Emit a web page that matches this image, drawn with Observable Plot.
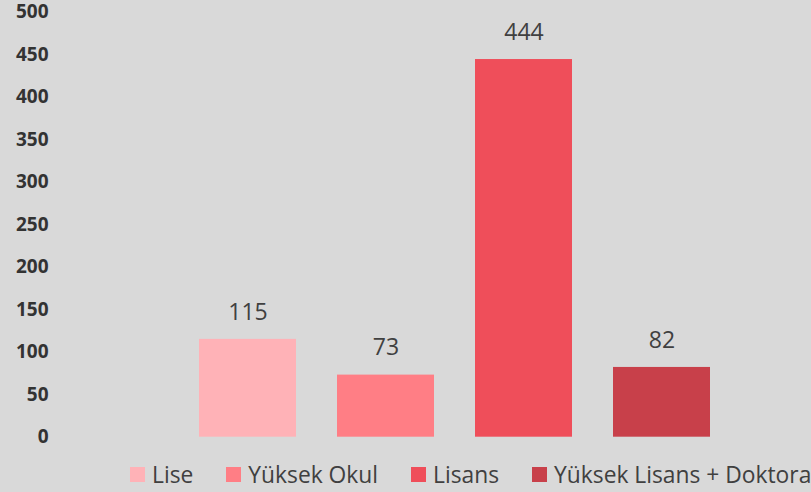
<!DOCTYPE html>
<html><head><meta charset="utf-8">
<script src="https://cdn.jsdelivr.net/npm/d3@7"></script>
<script src="https://cdn.jsdelivr.net/npm/@observablehq/plot@0.6"></script>
<style>
html,body{margin:0;padding:0;background:#d9d9d9;overflow:hidden;width:811px;height:492px;}
#chart svg{display:block;}
#legend{height:36px;padding-top:4px;padding-left:130px;display:flex;align-items:center;font-family:"Open Sans";font-size:22.8px;color:#404040;white-space:nowrap;}
.item{display:flex;align-items:center;margin-right:33px;}
.sw{width:15px;height:15px;margin-right:7px;flex:none;}
</style>
</head><body>
<div id="chart"></div>
<div id="legend"></div>
<script>
const categories = ["Lise", "Yüksek Okul", "Lisans", "Yüksek Lisans + Doktora"];
const values = [115, 73, 444, 82];
const colors = ["#ffb2b7", "#ff7e85", "#ef4e5a", "#c8404a"];
const yTicks = [0, 50, 100, 150, 200, 250, 300, 350, 400, 450, 500];

const data = categories.map((c, i) => ({cat: c, value: values[i]}));

const plot = Plot.plot({
  width: 811,
  height: 452,
  marginTop: 11.4,
  marginBottom: 15.3,
  marginLeft: 50,
  marginRight: 0,
  style: {background: "#d9d9d9", fontFamily: "Open Sans", overflow: "visible"},
  x: {domain: categories, range: [158, 751], padding: 0.297, axis: null},
  y: {domain: [0, 500], axis: null},
  color: {domain: categories, range: colors},
  marks: [
    Plot.axisY({ticks: yTicks, tickSize: 0, tickPadding: 2, label: null, fontSize: 19, fontWeight: "bold", fill: "#333333"}),
    Plot.barY(data, {x: "cat", y: "value", fill: "cat"}),
    Plot.text(data, {x: "cat", y: "value", text: d => String(d.value), dy: -27, fontSize: 23, fill: "#404040"})
  ]
});
document.getElementById("chart").appendChild(plot);

const legend = document.getElementById("legend");
categories.forEach((c, i) => {
  const item = document.createElement("div");
  item.className = "item";
  const sw = document.createElement("span");
  sw.className = "sw";
  sw.style.background = colors[i];
  const t = document.createElement("span");
  t.textContent = c;
  item.appendChild(sw);
  item.appendChild(t);
  legend.appendChild(item);
});
</script>
</body></html>
